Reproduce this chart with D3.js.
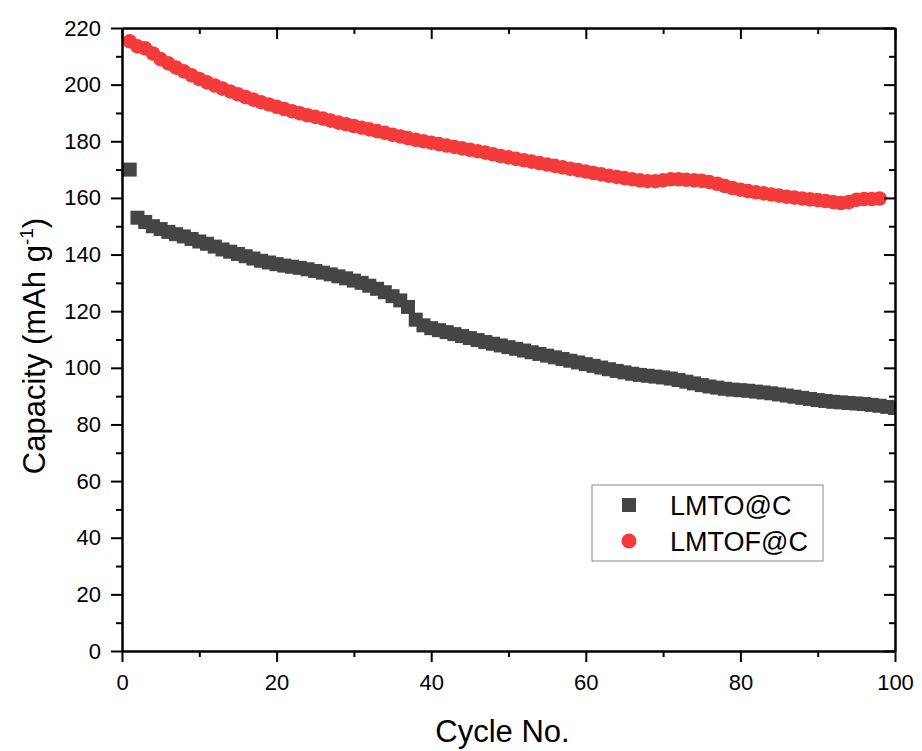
<!DOCTYPE html>
<html>
<head>
<meta charset="utf-8">
<script src="https://cdn.jsdelivr.net/npm/d3@7"></script>
<style>
  body { margin: 0; background: #fff; }
  text { font-family: "Liberation Sans", Arial, sans-serif; fill: #000; }
</style>
</head>
<body>
<div id="container"></div>
<script>
const seriesNames = ["LMTO@C", "LMTOF@C"];

const lmtoCycles = d3.range(1, 101);
const lmtoCapacity = [
  170, 153, 151.5, 150, 149, 148, 147.2, 146.4, 145.5, 144.6,
  143.8, 142.8, 141.8, 141, 140.2, 139.4, 138.6, 137.8, 137.2, 136.6,
  136.1, 135.7, 135.3, 134.8, 134.2, 133.6, 133.0, 132.3, 131.6, 130.8,
  130.0, 129.0, 127.9, 126.7, 125.3, 123.8, 121.5, 117, 115, 114,
  113.3, 112.6, 111.9, 111.2, 110.5, 109.8, 109.1, 108.5, 107.9, 107.3,
  106.7, 106.1, 105.5, 104.9, 104.3, 103.7, 103.1, 102.5, 101.9, 101.3,
  100.7, 100.1, 99.5, 98.9, 98.4, 97.9, 97.5, 97.2, 96.9, 96.6,
  96.2, 95.7, 95.1, 94.5, 93.9, 93.4, 93.0, 92.6, 92.3, 92.1,
  91.9, 91.6, 91.3, 91.0, 90.6, 90.2, 89.8, 89.4, 89.0, 88.6,
  88.3, 88.0, 87.8, 87.6, 87.4, 87.2, 86.9, 86.6, 86.2, 85.8
];

const lmtofCycles = d3.range(1, 99);
const lmtofCapacity = [
  215.3, 213.5, 212.8, 211, 209, 207.5, 206, 204.7, 203.3, 202,
  200.8, 199.7, 198.6, 197.6, 196.6, 195.6, 194.7, 193.8, 193, 192.2,
  191.4, 190.6, 189.9, 189.2, 188.6, 188.0, 187.3, 186.6, 186.0, 185.4,
  184.8, 184.2, 183.6, 183.0, 182.3, 181.7, 181.1, 180.5, 180.0, 179.5,
  179.0, 178.5, 178.0, 177.5, 177.0, 176.5, 176.0, 175.4, 174.8, 174.3,
  173.8, 173.3, 172.8, 172.3, 171.8, 171.3, 170.8, 170.3, 169.8, 169.3,
  168.8, 168.3, 167.8, 167.4, 167.0, 166.6, 166.2, 165.9, 165.9, 166.2,
  166.6, 166.6, 166.4, 166.2, 166.0, 165.6, 165.0, 164.2, 163.5, 162.9,
  162.4, 162.0, 161.6, 161.2, 160.8, 160.4, 160.1, 159.8, 159.5, 159.2,
  158.9, 158.5, 158.2, 158.5, 159.3, 159.6, 159.6, 159.8
];

const xMajorTicks = [0, 20, 40, 60, 80, 100];
const xMinorTicks = [10, 30, 50, 70, 90];
const yMajorTicks = [0, 20, 40, 60, 80, 100, 120, 140, 160, 180, 200, 220];
const yMinorTicks = [10, 30, 50, 70, 90, 110, 130, 150, 170, 190, 210];

const greyColor = "#454545";
const redColor = "#f43a3a";

const margin = {top: 28, right: 27, bottom: 100, left: 122},
  width = 922 - margin.left - margin.right,
  height = 751 - margin.top - margin.bottom;

const svg = d3.select("#container")
  .append("svg")
  .attr("width", 922)
  .attr("height", 751)
  .append("g")
  .attr("transform", `translate(${margin.left},${margin.top})`);

const x = d3.scaleLinear().domain([0, 100]).range([0, width]);
const y = d3.scaleLinear().domain([0, 220]).range([height, 0]);

svg.append("clipPath")
  .attr("id", "plotclip")
  .append("rect")
  .attr("width", width)
  .attr("height", height);

// data
const plot = svg.append("g").attr("clip-path", "url(#plotclip)");

const lmtoData = lmtoCycles.map((c, i) => ({cycle: c, cap: lmtoCapacity[i]}));
const lmtofData = lmtofCycles.map((c, i) => ({cycle: c, cap: lmtofCapacity[i]}));

const sq = 14;
plot.selectAll("rect.lmto")
  .data(lmtoData)
  .enter()
  .append("rect")
  .attr("class", "lmto")
  .attr("x", d => x(d.cycle) - sq / 2)
  .attr("y", d => y(d.cap) - sq / 2)
  .attr("width", sq)
  .attr("height", sq)
  .attr("fill", greyColor);

plot.selectAll("circle.lmtof")
  .data(lmtofData)
  .enter()
  .append("circle")
  .attr("class", "lmtof")
  .attr("cx", d => x(d.cycle))
  .attr("cy", d => y(d.cap))
  .attr("r", 7.3)
  .attr("fill", redColor);

// axes
function styleAxis(g) {
  g.select(".domain").attr("stroke", "#000").attr("stroke-width", 2);
  g.selectAll(".tick line").attr("stroke", "#000").attr("stroke-width", 2);
  g.selectAll(".tick text").style("font-size", "22px").attr("fill", "#000");
}

svg.append("g")
  .attr("transform", `translate(0,${height})`)
  .call(d3.axisBottom(x).tickValues(xMinorTicks).tickSize(6).tickSizeOuter(0).tickFormat(""))
  .call(styleAxis);
svg.append("g")
  .attr("transform", `translate(0,${height})`)
  .call(d3.axisBottom(x).tickValues(xMajorTicks).tickSize(11).tickSizeOuter(0).tickPadding(12))
  .call(styleAxis);

svg.append("g")
  .call(d3.axisLeft(y).tickValues(yMinorTicks).tickSize(6).tickSizeOuter(0).tickFormat(""))
  .call(styleAxis);
svg.append("g")
  .call(d3.axisLeft(y).tickValues(yMajorTicks).tickSize(11).tickSizeOuter(0).tickPadding(10))
  .call(styleAxis);

svg.append("g")
  .call(d3.axisTop(x).tickValues(xMinorTicks).tickSize(-6).tickSizeOuter(0).tickFormat(""))
  .call(styleAxis);
svg.append("g")
  .call(d3.axisTop(x).tickValues(xMajorTicks).tickSize(-11).tickSizeOuter(0).tickFormat(""))
  .call(styleAxis);

svg.append("g")
  .attr("transform", `translate(${width},0)`)
  .call(d3.axisRight(y).tickValues(yMinorTicks).tickSize(-6).tickSizeOuter(0).tickFormat(""))
  .call(styleAxis);
svg.append("g")
  .attr("transform", `translate(${width},0)`)
  .call(d3.axisRight(y).tickValues(yMajorTicks).tickSize(-11).tickSizeOuter(0).tickFormat(""))
  .call(styleAxis);

// titles
svg.append("text")
  .attr("x", width / 2 - 6)
  .attr("y", height + 91)
  .attr("text-anchor", "middle")
  .style("font-size", "31px")
  .text("Cycle No.");

const yTitle = svg.append("text")
  .attr("transform", `translate(${45 - margin.left},${346 - margin.top}) rotate(-90)`)
  .attr("text-anchor", "middle")
  .style("font-size", "31px");
yTitle.append("tspan").text("Capacity (mAh g");
yTitle.append("tspan").attr("dy", "-12").style("font-size", "19px").text("-1");
yTitle.append("tspan").attr("dy", "12").text(")");

// legend
const legend = svg.append("g")
  .attr("transform", `translate(${592 - margin.left},${485 - margin.top})`);

legend.append("rect")
  .attr("width", 231)
  .attr("height", 76)
  .attr("fill", "#fff")
  .attr("stroke", "#8a8a8a")
  .attr("stroke-width", 1);

const legendColors = [greyColor, redColor];
seriesNames.forEach((name, i) => {
  const row = legend.append("g").attr("transform", `translate(37,${20 + i * 36})`);
  if (i === 0) {
    row.append("rect")
      .attr("x", -7).attr("y", -7)
      .attr("width", 14).attr("height", 14)
      .attr("fill", legendColors[i]);
  } else {
    row.append("circle")
      .attr("r", 7.5)
      .attr("fill", legendColors[i]);
  }
  row.append("text")
    .attr("x", 41)
    .attr("dy", "0.36em")
    .style("font-size", "27px")
    .text(name);
});
</script>
</body>
</html>
